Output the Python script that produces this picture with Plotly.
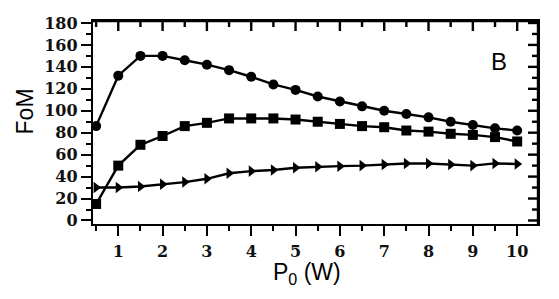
import plotly.graph_objects as go

power_w = [0.5, 1, 1.5, 2, 2.5, 3, 3.5, 4, 4.5, 5, 5.5, 6, 6.5, 7, 7.5, 8, 8.5, 9, 9.5, 10]
fom_circle = [86, 132, 150, 150, 146, 142, 137, 131, 124, 119, 113, 108.5, 104, 100, 97, 94, 90, 87, 84, 82]
fom_square = [15, 50, 69, 77, 86, 89, 93, 93, 93, 92, 90, 88, 86, 85, 82, 81, 79, 78, 76, 72]
fom_triangle = [30, 30, 31, 33, 35, 38, 43, 45, 46, 48, 49, 49.5, 50, 51, 52, 52, 51, 50, 52, 51.5]

x_ticks = [1, 2, 3, 4, 5, 6, 7, 8, 9, 10]
x_minor_ticks = [0.5, 1.5, 2.5, 3.5, 4.5, 5.5, 6.5, 7.5, 8.5, 9.5]
y_ticks = [0, 20, 40, 60, 80, 100, 120, 140, 160, 180]
y_minor_ticks = [10, 30, 50, 70, 90, 110, 130, 150, 170]

XR = [0.43, 10.47]
YR = [-3.2, 181.8]
LW = 2.4
W, H = 559, 299
ML, MR, MT, MB = 93, 21, 21, 75
PW, PH = W - ML - MR, H - MT - MB
UX = (XR[1] - XR[0]) / PW   # data units per pixel
UY = (YR[1] - YR[0]) / PH

fig = go.Figure()
series = [
    (fom_circle, "circle", 10),
    (fom_square, "square", 10),
    (fom_triangle, "triangle-right", 10),
]
for vals, sym, sz in series:
    fig.add_trace(go.Scatter(
        x=power_w, y=vals, mode="lines+markers",
        line=dict(color="black", width=LW),
        marker=dict(symbol=sym, size=sz, color="black"),
        showlegend=False, hoverinfo="skip",
    ))

# top / right frame edges with inside ticks (mirrored axes)
fx, fy = [XR[0], XR[1], XR[1]], [YR[1], YR[1], YR[0]]
for t, ln in [(v, 10) for v in x_ticks] + [(v, 6) for v in x_minor_ticks]:
    fx += [None, t, t]
    fy += [None, YR[1], YR[1] - ln * UY]
for t, ln in [(v, 10) for v in y_ticks] + [(v, 6) for v in y_minor_ticks]:
    fx += [None, XR[1], XR[1] - ln * UX]
    fy += [None, t, t]
fig.add_trace(go.Scatter(x=fx, y=fy, mode="lines", line=dict(color="black", width=LW),
                         showlegend=False, hoverinfo="skip", cliponaxis=False,
                         connectgaps=False))

tickfont = dict(family="DejaVu Serif", size=16, color="#111111", weight="bold")

fig.update_layout(
    width=W, height=H,
    margin=dict(l=ML, r=MR, t=MT, b=MB),
    paper_bgcolor="white", plot_bgcolor="white",
    xaxis=dict(range=XR, tickvals=x_ticks, ticks="outside", ticklen=10, tickwidth=2.4,
               tickcolor="black", showline=True, mirror=True, linewidth=LW, linecolor="black",
               showgrid=False, zeroline=False, tickfont=tickfont, automargin=False,
               ticklabelstandoff=2,
               minor=dict(tickvals=x_minor_ticks, ticks="outside", ticklen=5, tickwidth=2.4,
                          tickcolor="black", showgrid=False)),
    yaxis=dict(range=YR, tickvals=y_ticks, ticks="outside", ticklen=10, tickwidth=2.4,
               tickcolor="black", showline=True, mirror=True, linewidth=LW, linecolor="black",
               showgrid=False, zeroline=False, tickfont=tickfont, automargin=False,
               minor=dict(tickvals=y_minor_ticks, ticks="outside", ticklen=5, tickwidth=2.4,
                          tickcolor="black", showgrid=False)),
    annotations=[
        dict(text="FoM", x=-0.153, y=0.554, xref="paper", yref="paper", showarrow=False,
             textangle=-90, xanchor="center", yanchor="middle",
             font=dict(family="Liberation Sans", size=23, color="black")),
        dict(text="P<sub>0</sub> (W)", x=0.481, y=-0.245, xref="paper", yref="paper",
             showarrow=False, xanchor="center", yanchor="middle",
             font=dict(family="Liberation Sans", size=23, color="black")),
        dict(text="B", x=0.912, y=0.80, xref="paper", yref="paper", showarrow=False,
             xanchor="center", yanchor="middle",
             font=dict(family="Liberation Sans", size=24, color="black")),
    ],
)

fig.write_html("out.html", config={"displayModeBar": False},
               post_script="document.body.style.margin='0';")
